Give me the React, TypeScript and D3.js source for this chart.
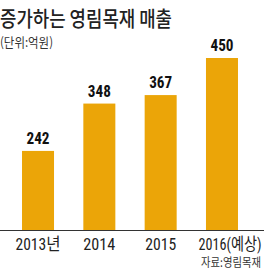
import React from "react";
import * as d3 from "d3";

const years = ["2013년", "2014", "2015", "2016(예상)"];
const sales = [242, 348, 367, 450];
// the original's year labels are condensed, these are their drawn widths
const labelWidth = [45, 32, 31, 63];
const labelShift = [0, 0, 0, 8];

const title = "증가하는 영림목재 매출";
const unit = "(단위:억원)";
const source = "자료:영림목재";

const W = 264, H = 277;
const baseY = 230;
const barColor = "#EBA508";
const narrow = "'Liberation Sans Narrow', 'Roboto Condensed', Arial, 'Noto Sans CJK KR', sans-serif";
const kr = "'Noto Sans CJK KR', sans-serif";

function App() {
    // x band for the 4 years
    const x = d3.scaleBand<string>()
        .domain(years)
        .range([0, 260])
        .paddingInner(0.478)
        .paddingOuter(0.359);
    // y doesn't start at zero in the original
    const y = d3.scaleLinear()
        .domain([65, 450])
        .range([baseY, 58]);

    return (
        <div style={{ position: "absolute", left: 0, top: 0 }}>
            <svg width={W} height={H} style={{ display: "block", background: "#fff" }}>
                <text x={0} y={26} fontFamily={kr} fontSize={21} fontWeight={500} fill="#222"
                    textLength={172} lengthAdjust="spacingAndGlyphs">{title}</text>
                <text x={0} y={47} fontFamily={kr} fontSize={13} fill="#333"
                    textLength={53} lengthAdjust="spacingAndGlyphs">{unit}</text>

                {years.map((d, i) => {
                    const cx = x(d)! + x.bandwidth() / 2;
                    return (
                        <g key={d}>
                            <rect x={x(d)} y={y(sales[i])} width={x.bandwidth()}
                                height={baseY - y(sales[i])} fill={barColor} />
                            <text x={cx - 11.5} y={y(sales[i]) - 7}
                                fontFamily={narrow} fontSize={16} fontWeight="bold" fill="#111"
                                textLength={23} lengthAdjust="spacingAndGlyphs">{sales[i]}</text>
                            <text x={cx + labelShift[i] - labelWidth[i] / 2} y={250}
                                fontFamily={narrow} fontSize={17} fill="#222"
                                textLength={labelWidth[i]} lengthAdjust="spacingAndGlyphs">{d}</text>
                        </g>
                    );
                })}

                <line x1={0} x2={W} y1={baseY + 0.5} y2={baseY + 0.5} stroke="#333" strokeWidth={1} />

                <text x={201} y={267} fontFamily={kr} fontSize={12} fill="#333"
                    textLength={60} lengthAdjust="spacingAndGlyphs">{source}</text>
            </svg>
        </div>
    );
}

export default App;
